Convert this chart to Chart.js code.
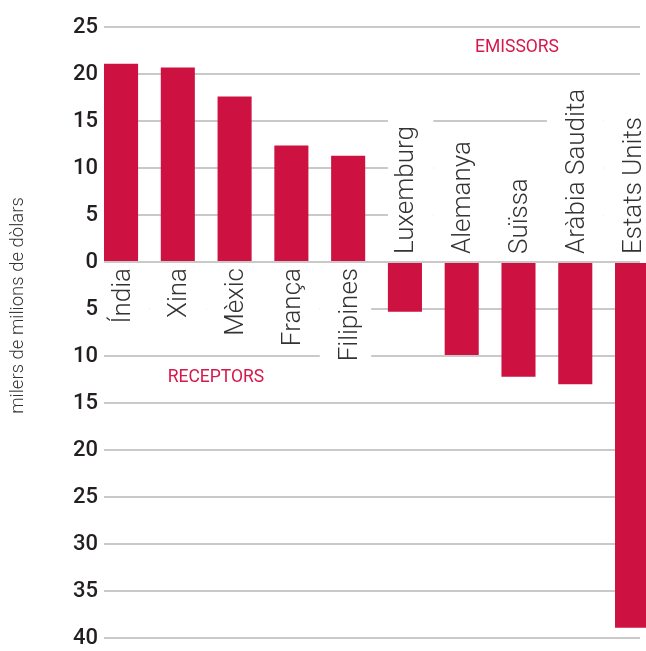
<!DOCTYPE html>
<html>
<head>
<meta charset="utf-8">
<script src="https://cdn.jsdelivr.net/npm/chart.js@4"></script>
<style>
  html, body { margin: 0; padding: 0; background: #fff; overflow: hidden; }
  #wrap { width: 646px; height: 651px; }
</style>
</head>
<body>
<div id="wrap"><canvas id="grafic"></canvas></div>
<script>
// dades: milers de milions de dòlars (positiu = receptors, negatiu = emissors)
const paisos = ['Índia', 'Xina', 'Mèxic', 'França', 'Filipines', 'Luxemburg', 'Alemanya', 'Suïssa', 'Aràbia Saudita', 'Estats Units'];
const valors = [21.1, 20.7, 17.6, 12.4, 11.3, -5.3, -9.9, -12.2, -13.0, -38.9];
const ticksY = [25, 20, 15, 10, 5, 0, -5, -10, -15, -20, -25, -30, -35, -40];

const vermell = '#cd1242';

// etiquetes girades dins del grafic, amb fons blanc que tapa la graella
const etiquetes = {
    id: 'etiquetes',
    beforeDatasetsDraw(chart) {
        const ctx = chart.ctx;
        const x = chart.scales.x;
        const y = chart.scales.y;
        const zero = y.getPixelForValue(0);
        const pas = x.getPixelForValue(1) - x.getPixelForValue(0);
        ctx.save();
        ctx.font = '300 26px Roboto';
        paisos.forEach((p, i) => {
            const cx = x.getPixelForValue(i);
            const w = ctx.measureText(p).width;
            const positiu = valors[i] > 0;
            const ant = i > 0 && (valors[i - 1] > 0) === positiu;
            const seg = i < paisos.length - 1 && (valors[i + 1] > 0) === positiu;
            const esq = ant ? cx - pas / 2 : cx - 17;
            const dre = seg ? cx + pas / 2 : cx + 23;
            // fons blanc
            ctx.fillStyle = '#fff';
            if (positiu) {
                ctx.fillRect(esq, zero + 3, dre - esq, w + 10);
            } else {
                const llarg = Math.max(w + 13, 100);
                ctx.fillRect(esq, zero - 3 - llarg, dre - esq, llarg);
            }
            // text
            ctx.save();
            ctx.translate(cx, zero);
            ctx.rotate(-Math.PI / 2);
            ctx.fillStyle = '#333';
            ctx.textBaseline = 'middle';
            if (positiu) {
                ctx.textAlign = 'right';
                ctx.fillText(p, -6, 2);
            } else {
                ctx.textAlign = 'left';
                ctx.fillText(p, 8, 2);
            }
            ctx.restore();
        });
        ctx.restore();
    },
    afterDraw(chart) {
        const ctx = chart.ctx;
        const area = chart.chartArea;
        const y = chart.scales.y;
        ctx.save();
        ctx.font = '400 17.5px Roboto';
        ctx.fillStyle = '#d6194b';
        ctx.textAlign = 'center';
        ctx.textBaseline = 'middle';
        ctx.fillText('EMISSORS', 517, y.getPixelForValue(22.8));
        ctx.fillText('RECEPTORS', 216, y.getPixelForValue(-12.3));
        // titol eix
        ctx.font = '300 18.5px Roboto';
        ctx.fillStyle = '#333';
        ctx.translate(18, (area.top + area.bottom) / 2 - 27);
        ctx.rotate(-Math.PI / 2);
        ctx.fillText('milers de milions de dòlars', 0, 0);
        ctx.restore();
    }
};

new Chart(document.getElementById('grafic'), {
    type: 'bar',
    data: {
        datasets: [{
            data: valors.map((v, i) => ({ x: i, y: v })),
            backgroundColor: vermell,
            barPercentage: 0.6,
            categoryPercentage: 1,
            clip: false
        }]
    },
    options: {
        responsive: true,
        maintainAspectRatio: false,
        animation: false,
        layout: { padding: { top: 27, right: 6, bottom: 13, left: 0 } },
        plugins: { legend: { display: false }, tooltip: { enabled: false } },
        scales: {
            x: {
                type: 'linear',
                offset: false,
                min: -0.3,
                max: 9.14,
                display: false
            },
            y: {
                min: -40,
                max: 25,
                afterFit: (s) => { s.width = 104; s.paddingTop = 0; s.paddingBottom = 0; },
                afterBuildTicks: (s) => { s.ticks = ticksY.map(v => ({ value: v })); },
                border: { display: false },
                grid: { color: '#c9c9c9', lineWidth: 2, drawTicks: false },
                ticks: {
                    padding: 6,
                    color: '#231f20',
                    font: { family: 'Roboto', size: 22, weight: '500' },
                    callback: (v) => Math.abs(v)
                }
            }
        }
    },
    plugins: [etiquetes]
});
</script>
</body>
</html>
